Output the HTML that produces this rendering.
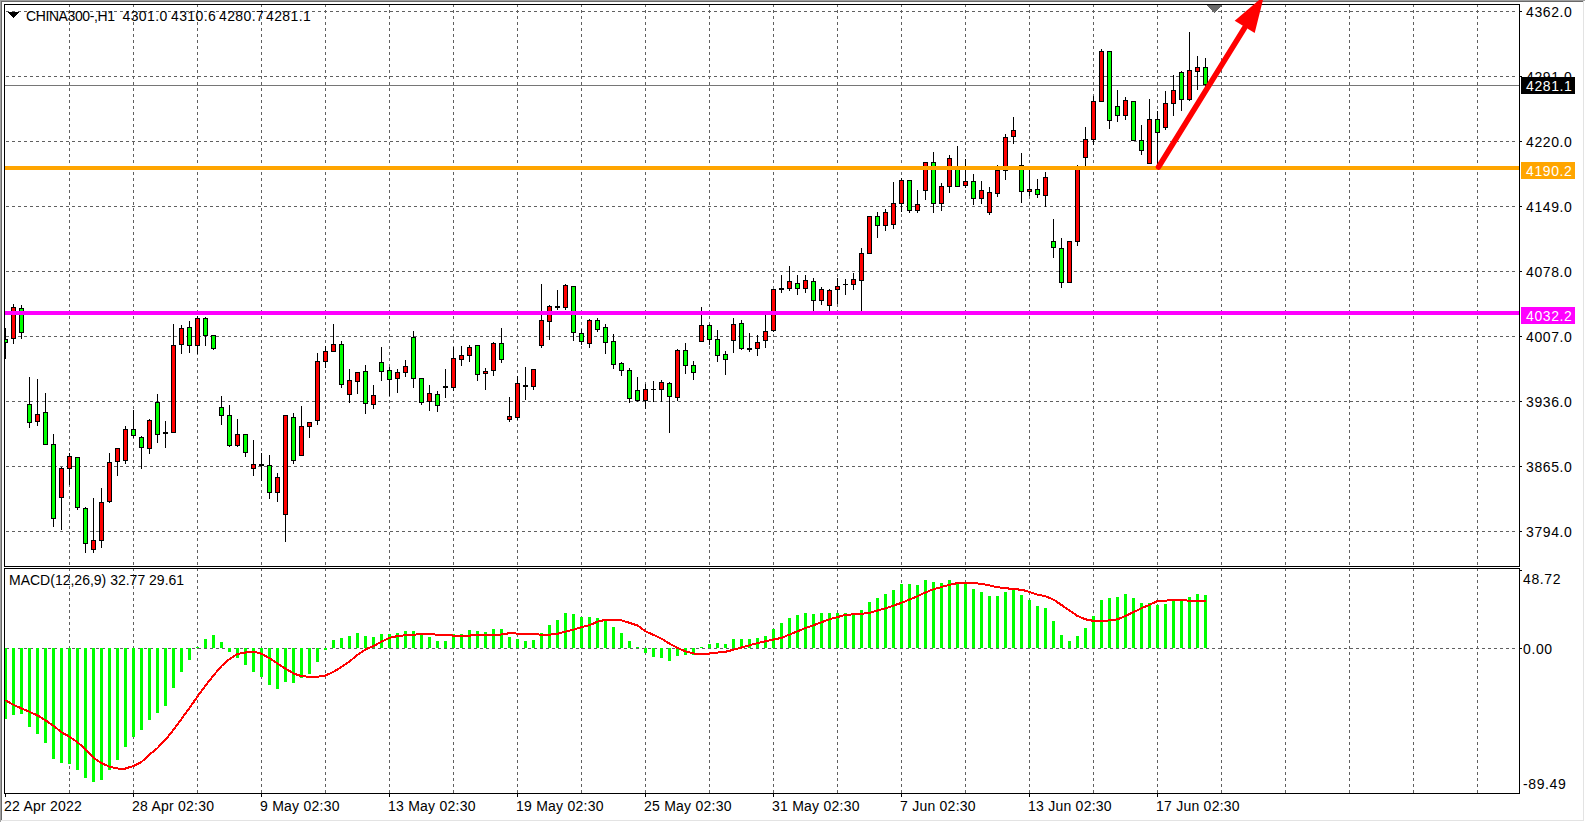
<!DOCTYPE html>
<html><head><meta charset="utf-8"><style>
html,body{margin:0;padding:0;background:#fff;overflow:hidden;}
svg{display:block;}
</style></head><body><svg width="1585" height="822" viewBox="0 0 1585 822"><rect x="0" y="0" width="1585" height="822" fill="#fff"/><rect x="0" y="0" width="1585" height="1" fill="#a0a0a0"/><rect x="0" y="0" width="1" height="822" fill="#a0a0a0"/><rect x="1" y="1" width="1583" height="1" fill="#696969"/><rect x="1" y="1" width="1" height="820" fill="#696969"/><rect x="1583" y="1" width="1" height="820" fill="#e3e3e3"/><rect x="1" y="820" width="1583" height="1" fill="#e3e3e3"/><path d="M69.5 4V566 M69.5 568V793 M133.5 4V566 M133.5 568V793 M197.5 4V566 M197.5 568V793 M261.5 4V566 M261.5 568V793 M325.5 4V566 M325.5 568V793 M389.5 4V566 M389.5 568V793 M453.5 4V566 M453.5 568V793 M517.5 4V566 M517.5 568V793 M581.5 4V566 M581.5 568V793 M645.5 4V566 M645.5 568V793 M709.5 4V566 M709.5 568V793 M773.5 4V566 M773.5 568V793 M837.5 4V566 M837.5 568V793 M901.5 4V566 M901.5 568V793 M965.5 4V566 M965.5 568V793 M1029.5 4V566 M1029.5 568V793 M1093.5 4V566 M1093.5 568V793 M1157.5 4V566 M1157.5 568V793 M1221.5 4V566 M1221.5 568V793 M1285.5 4V566 M1285.5 568V793 M1349.5 4V566 M1349.5 568V793 M1413.5 4V566 M1413.5 568V793 M1477.5 4V566 M1477.5 568V793 M6 11.5H1518 M6 76.5H1518 M6 141.5H1518 M6 206.5H1518 M6 271.5H1518 M6 336.5H1518 M6 401.5H1518 M6 466.5H1518 M6 531.5H1518 M6 648.5H1518" stroke="#606060" stroke-width="1" stroke-dasharray="3 3" fill="none" shape-rendering="crispEdges"/><rect x="5" y="85" width="1514" height="1" fill="#767676"/><defs><clipPath id="cm"><rect x="5" y="5" width="1514" height="561"/></clipPath><clipPath id="cd"><rect x="5" y="569" width="1514" height="224"/></clipPath></defs><g clip-path="url(#cm)"><g fill="#000" shape-rendering="crispEdges"><rect x="5" y="328" width="1" height="31"/><rect x="13" y="304" width="1" height="40"/><rect x="21" y="305" width="1" height="34"/><rect x="29" y="377" width="1" height="51"/><rect x="37" y="379" width="1" height="47"/><rect x="45" y="393" width="1" height="52"/><rect x="53" y="434" width="1" height="93"/><rect x="61" y="467" width="1" height="63"/><rect x="69" y="453" width="1" height="32"/><rect x="77" y="457" width="1" height="53"/><rect x="85" y="507" width="1" height="46"/><rect x="93" y="498" width="1" height="55"/><rect x="101" y="488" width="1" height="60"/><rect x="109" y="453" width="1" height="50"/><rect x="117" y="448" width="1" height="28"/><rect x="125" y="426" width="1" height="38"/><rect x="133" y="410" width="1" height="28"/><rect x="141" y="436" width="1" height="33"/><rect x="149" y="419" width="1" height="35"/><rect x="157" y="394" width="1" height="49"/><rect x="165" y="421" width="1" height="27"/><rect x="173" y="324" width="1" height="109"/><rect x="181" y="325" width="1" height="29"/><rect x="189" y="321" width="1" height="32"/><rect x="197" y="316" width="1" height="38"/><rect x="205" y="317" width="1" height="29"/><rect x="213" y="335" width="1" height="15"/><rect x="221" y="396" width="1" height="29"/><rect x="229" y="405" width="1" height="42"/><rect x="237" y="419" width="1" height="28"/><rect x="245" y="434" width="1" height="23"/><rect x="253" y="440" width="1" height="36"/><rect x="261" y="453" width="1" height="28"/><rect x="269" y="455" width="1" height="44"/><rect x="277" y="473" width="1" height="29"/><rect x="285" y="415" width="1" height="127"/><rect x="293" y="413" width="1" height="51"/><rect x="301" y="406" width="1" height="50"/><rect x="309" y="422" width="1" height="16"/><rect x="317" y="353" width="1" height="72"/><rect x="325" y="346" width="1" height="22"/><rect x="333" y="324" width="1" height="28"/><rect x="341" y="341" width="1" height="47"/><rect x="349" y="369" width="1" height="34"/><rect x="357" y="372" width="1" height="22"/><rect x="365" y="365" width="1" height="49"/><rect x="373" y="385" width="1" height="24"/><rect x="381" y="347" width="1" height="34"/><rect x="389" y="367" width="1" height="29"/><rect x="397" y="369" width="1" height="24"/><rect x="405" y="360" width="1" height="17"/><rect x="413" y="331" width="1" height="57"/><rect x="421" y="378" width="1" height="27"/><rect x="429" y="385" width="1" height="26"/><rect x="437" y="391" width="1" height="21"/><rect x="445" y="369" width="1" height="29"/><rect x="453" y="347" width="1" height="44"/><rect x="461" y="346" width="1" height="20"/><rect x="469" y="345" width="1" height="17"/><rect x="477" y="345" width="1" height="36"/><rect x="485" y="368" width="1" height="22"/><rect x="493" y="342" width="1" height="34"/><rect x="501" y="328" width="1" height="35"/><rect x="509" y="397" width="1" height="25"/><rect x="517" y="376" width="1" height="44"/><rect x="525" y="367" width="1" height="33"/><rect x="533" y="369" width="1" height="21"/><rect x="541" y="284" width="1" height="64"/><rect x="549" y="305" width="1" height="35"/><rect x="557" y="290" width="1" height="20"/><rect x="565" y="284" width="1" height="26"/><rect x="573" y="286" width="1" height="55"/><rect x="581" y="329" width="1" height="16"/><rect x="589" y="319" width="1" height="29"/><rect x="597" y="318" width="1" height="14"/><rect x="605" y="324" width="1" height="30"/><rect x="613" y="334" width="1" height="35"/><rect x="621" y="362" width="1" height="14"/><rect x="629" y="368" width="1" height="35"/><rect x="637" y="377" width="1" height="25"/><rect x="645" y="384" width="1" height="25"/><rect x="653" y="381" width="1" height="21"/><rect x="661" y="380" width="1" height="22"/><rect x="669" y="382" width="1" height="51"/><rect x="677" y="349" width="1" height="52"/><rect x="685" y="343" width="1" height="31"/><rect x="693" y="361" width="1" height="19"/><rect x="701" y="307" width="1" height="35"/><rect x="709" y="324" width="1" height="21"/><rect x="717" y="330" width="1" height="32"/><rect x="725" y="351" width="1" height="24"/><rect x="733" y="318" width="1" height="35"/><rect x="741" y="320" width="1" height="30"/><rect x="749" y="333" width="1" height="19"/><rect x="757" y="335" width="1" height="21"/><rect x="765" y="315" width="1" height="33"/><rect x="773" y="289" width="1" height="43"/><rect x="781" y="275" width="1" height="18"/><rect x="789" y="266" width="1" height="25"/><rect x="797" y="275" width="1" height="20"/><rect x="805" y="275" width="1" height="18"/><rect x="813" y="278" width="1" height="34"/><rect x="821" y="287" width="1" height="18"/><rect x="829" y="289" width="1" height="23"/><rect x="837" y="278" width="1" height="26"/><rect x="845" y="279" width="1" height="16"/><rect x="853" y="273" width="1" height="17"/><rect x="861" y="248" width="1" height="64"/><rect x="869" y="216" width="1" height="38"/><rect x="877" y="212" width="1" height="26"/><rect x="885" y="209" width="1" height="22"/><rect x="893" y="182" width="1" height="47"/><rect x="901" y="178" width="1" height="34"/><rect x="909" y="180" width="1" height="33"/><rect x="917" y="190" width="1" height="23"/><rect x="925" y="162" width="1" height="38"/><rect x="933" y="152" width="1" height="61"/><rect x="941" y="183" width="1" height="28"/><rect x="949" y="155" width="1" height="38"/><rect x="957" y="146" width="1" height="41"/><rect x="965" y="159" width="1" height="29"/><rect x="973" y="174" width="1" height="31"/><rect x="981" y="181" width="1" height="23"/><rect x="989" y="187" width="1" height="28"/><rect x="997" y="165" width="1" height="32"/><rect x="1005" y="134" width="1" height="46"/><rect x="1013" y="117" width="1" height="27"/><rect x="1021" y="153" width="1" height="50"/><rect x="1029" y="170" width="1" height="26"/><rect x="1037" y="179" width="1" height="19"/><rect x="1045" y="172" width="1" height="35"/><rect x="1053" y="219" width="1" height="39"/><rect x="1061" y="238" width="1" height="50"/><rect x="1069" y="241" width="1" height="42"/><rect x="1077" y="165" width="1" height="81"/><rect x="1085" y="127" width="1" height="39"/><rect x="1093" y="96" width="1" height="49"/><rect x="1101" y="49" width="1" height="53"/><rect x="1109" y="51" width="1" height="78"/><rect x="1117" y="90" width="1" height="32"/><rect x="1125" y="97" width="1" height="23"/><rect x="1133" y="101" width="1" height="40"/><rect x="1141" y="125" width="1" height="30"/><rect x="1149" y="99" width="1" height="65"/><rect x="1157" y="111" width="1" height="54"/><rect x="1165" y="91" width="1" height="39"/><rect x="1173" y="75" width="1" height="41"/><rect x="1181" y="71" width="1" height="40"/><rect x="1189" y="32" width="1" height="69"/><rect x="1197" y="56" width="1" height="34"/><rect x="1205" y="58" width="1" height="32"/><rect x="3" y="339" width="5" height="4"/><rect x="11" y="307" width="5" height="32"/><rect x="19" y="308" width="5" height="25"/><rect x="27" y="404" width="5" height="19"/><rect x="35" y="414" width="5" height="8"/><rect x="43" y="412" width="5" height="33"/><rect x="51" y="444" width="5" height="75"/><rect x="59" y="468" width="5" height="30"/><rect x="67" y="456" width="5" height="13"/><rect x="75" y="457" width="5" height="51"/><rect x="83" y="508" width="5" height="36"/><rect x="91" y="540" width="5" height="10"/><rect x="99" y="502" width="5" height="39"/><rect x="107" y="462" width="5" height="40"/><rect x="115" y="448" width="5" height="14"/><rect x="123" y="429" width="5" height="32"/><rect x="131" y="429" width="5" height="7"/><rect x="139" y="437" width="5" height="11"/><rect x="147" y="420" width="5" height="29"/><rect x="155" y="402" width="5" height="33"/><rect x="163" y="432" width="5" height="2"/><rect x="171" y="345" width="5" height="88"/><rect x="179" y="328" width="5" height="17"/><rect x="187" y="327" width="5" height="19"/><rect x="195" y="318" width="5" height="28"/><rect x="203" y="318" width="5" height="18"/><rect x="211" y="335" width="5" height="14"/><rect x="219" y="407" width="5" height="9"/><rect x="227" y="415" width="5" height="31"/><rect x="235" y="434" width="5" height="12"/><rect x="243" y="434" width="5" height="19"/><rect x="251" y="464" width="5" height="5"/><rect x="259" y="464" width="5" height="2"/><rect x="267" y="465" width="5" height="28"/><rect x="275" y="477" width="5" height="16"/><rect x="283" y="415" width="5" height="100"/><rect x="291" y="417" width="5" height="44"/><rect x="299" y="426" width="5" height="30"/><rect x="307" y="422" width="5" height="5"/><rect x="315" y="361" width="5" height="60"/><rect x="323" y="351" width="5" height="11"/><rect x="331" y="344" width="5" height="8"/><rect x="339" y="344" width="5" height="41"/><rect x="347" y="380" width="5" height="15"/><rect x="355" y="372" width="5" height="10"/><rect x="363" y="371" width="5" height="33"/><rect x="371" y="395" width="5" height="10"/><rect x="379" y="362" width="5" height="10"/><rect x="387" y="370" width="5" height="10"/><rect x="395" y="372" width="5" height="7"/><rect x="403" y="366" width="5" height="7"/><rect x="411" y="337" width="5" height="42"/><rect x="419" y="378" width="5" height="25"/><rect x="427" y="393" width="5" height="9"/><rect x="435" y="394" width="5" height="12"/><rect x="443" y="386" width="5" height="2"/><rect x="451" y="358" width="5" height="30"/><rect x="459" y="355" width="5" height="5"/><rect x="467" y="347" width="5" height="9"/><rect x="475" y="345" width="5" height="30"/><rect x="483" y="371" width="5" height="3"/><rect x="491" y="343" width="5" height="28"/><rect x="499" y="343" width="5" height="17"/><rect x="507" y="416" width="5" height="4"/><rect x="515" y="383" width="5" height="35"/><rect x="523" y="385" width="5" height="2"/><rect x="531" y="369" width="5" height="18"/><rect x="539" y="320" width="5" height="26"/><rect x="547" y="306" width="5" height="16"/><rect x="555" y="306" width="5" height="2"/><rect x="563" y="285" width="5" height="23"/><rect x="571" y="286" width="5" height="47"/><rect x="579" y="333" width="5" height="9"/><rect x="587" y="320" width="5" height="24"/><rect x="595" y="320" width="5" height="10"/><rect x="603" y="327" width="5" height="16"/><rect x="611" y="341" width="5" height="24"/><rect x="619" y="363" width="5" height="8"/><rect x="627" y="370" width="5" height="29"/><rect x="635" y="390" width="5" height="11"/><rect x="643" y="389" width="5" height="12"/><rect x="651" y="389" width="5" height="1"/><rect x="659" y="382" width="5" height="8"/><rect x="667" y="383" width="5" height="14"/><rect x="675" y="350" width="5" height="48"/><rect x="683" y="350" width="5" height="16"/><rect x="691" y="365" width="5" height="8"/><rect x="699" y="325" width="5" height="17"/><rect x="707" y="325" width="5" height="15"/><rect x="715" y="339" width="5" height="17"/><rect x="723" y="354" width="5" height="6"/><rect x="731" y="324" width="5" height="17"/><rect x="739" y="323" width="5" height="26"/><rect x="747" y="348" width="5" height="2"/><rect x="755" y="342" width="5" height="7"/><rect x="763" y="331" width="5" height="10"/><rect x="771" y="289" width="5" height="42"/><rect x="779" y="288" width="5" height="2"/><rect x="787" y="281" width="5" height="8"/><rect x="795" y="283" width="5" height="6"/><rect x="803" y="280" width="5" height="9"/><rect x="811" y="281" width="5" height="20"/><rect x="819" y="289" width="5" height="12"/><rect x="827" y="290" width="5" height="16"/><rect x="835" y="286" width="5" height="4"/><rect x="843" y="284" width="5" height="1"/><rect x="851" y="279" width="5" height="6"/><rect x="859" y="253" width="5" height="28"/><rect x="867" y="216" width="5" height="38"/><rect x="875" y="216" width="5" height="10"/><rect x="883" y="212" width="5" height="14"/><rect x="891" y="203" width="5" height="22"/><rect x="899" y="180" width="5" height="24"/><rect x="907" y="180" width="5" height="31"/><rect x="915" y="204" width="5" height="7"/><rect x="923" y="162" width="5" height="29"/><rect x="931" y="162" width="5" height="42"/><rect x="939" y="186" width="5" height="18"/><rect x="947" y="158" width="5" height="29"/><rect x="955" y="167" width="5" height="20"/><rect x="963" y="181" width="5" height="5"/><rect x="971" y="181" width="5" height="18"/><rect x="979" y="190" width="5" height="9"/><rect x="987" y="192" width="5" height="21"/><rect x="995" y="170" width="5" height="24"/><rect x="1003" y="137" width="5" height="34"/><rect x="1011" y="130" width="5" height="7"/><rect x="1019" y="165" width="5" height="27"/><rect x="1027" y="189" width="5" height="3"/><rect x="1035" y="189" width="5" height="6"/><rect x="1043" y="177" width="5" height="19"/><rect x="1051" y="241" width="5" height="7"/><rect x="1059" y="248" width="5" height="35"/><rect x="1067" y="241" width="5" height="42"/><rect x="1075" y="169" width="5" height="73"/><rect x="1083" y="139" width="5" height="19"/><rect x="1091" y="101" width="5" height="39"/><rect x="1099" y="51" width="5" height="51"/><rect x="1107" y="51" width="5" height="70"/><rect x="1115" y="106" width="5" height="10"/><rect x="1123" y="100" width="5" height="16"/><rect x="1131" y="101" width="5" height="40"/><rect x="1139" y="140" width="5" height="11"/><rect x="1147" y="119" width="5" height="45"/><rect x="1155" y="119" width="5" height="14"/><rect x="1163" y="103" width="5" height="25"/><rect x="1171" y="90" width="5" height="14"/><rect x="1179" y="72" width="5" height="28"/><rect x="1187" y="70" width="5" height="30"/><rect x="1195" y="67" width="5" height="5"/><rect x="1203" y="67" width="5" height="18"/></g><g fill="#ff0000" shape-rendering="crispEdges"><rect x="12" y="308" width="3" height="30"/><rect x="36" y="415" width="3" height="6"/><rect x="60" y="469" width="3" height="28"/><rect x="68" y="457" width="3" height="11"/><rect x="92" y="541" width="3" height="8"/><rect x="100" y="503" width="3" height="37"/><rect x="108" y="463" width="3" height="38"/><rect x="116" y="449" width="3" height="12"/><rect x="124" y="430" width="3" height="30"/><rect x="148" y="421" width="3" height="27"/><rect x="172" y="346" width="3" height="86"/><rect x="180" y="329" width="3" height="15"/><rect x="196" y="319" width="3" height="26"/><rect x="236" y="435" width="3" height="10"/><rect x="252" y="465" width="3" height="3"/><rect x="276" y="478" width="3" height="14"/><rect x="284" y="416" width="3" height="98"/><rect x="300" y="427" width="3" height="28"/><rect x="308" y="423" width="3" height="3"/><rect x="316" y="362" width="3" height="58"/><rect x="324" y="352" width="3" height="9"/><rect x="332" y="345" width="3" height="6"/><rect x="348" y="381" width="3" height="13"/><rect x="356" y="373" width="3" height="8"/><rect x="372" y="396" width="3" height="8"/><rect x="396" y="373" width="3" height="5"/><rect x="404" y="367" width="3" height="5"/><rect x="428" y="394" width="3" height="7"/><rect x="452" y="359" width="3" height="28"/><rect x="460" y="356" width="3" height="3"/><rect x="468" y="348" width="3" height="7"/><rect x="484" y="372" width="3" height="1"/><rect x="492" y="344" width="3" height="26"/><rect x="508" y="417" width="3" height="2"/><rect x="516" y="384" width="3" height="33"/><rect x="532" y="370" width="3" height="16"/><rect x="540" y="321" width="3" height="24"/><rect x="548" y="307" width="3" height="14"/><rect x="564" y="286" width="3" height="21"/><rect x="588" y="321" width="3" height="22"/><rect x="644" y="390" width="3" height="10"/><rect x="660" y="383" width="3" height="6"/><rect x="676" y="351" width="3" height="46"/><rect x="700" y="326" width="3" height="15"/><rect x="732" y="325" width="3" height="15"/><rect x="756" y="343" width="3" height="5"/><rect x="764" y="332" width="3" height="8"/><rect x="772" y="290" width="3" height="40"/><rect x="788" y="282" width="3" height="6"/><rect x="804" y="281" width="3" height="7"/><rect x="820" y="290" width="3" height="10"/><rect x="828" y="291" width="3" height="14"/><rect x="836" y="287" width="3" height="2"/><rect x="852" y="280" width="3" height="4"/><rect x="860" y="254" width="3" height="26"/><rect x="868" y="217" width="3" height="36"/><rect x="884" y="213" width="3" height="12"/><rect x="892" y="204" width="3" height="20"/><rect x="900" y="181" width="3" height="22"/><rect x="916" y="205" width="3" height="5"/><rect x="924" y="163" width="3" height="27"/><rect x="940" y="187" width="3" height="16"/><rect x="948" y="159" width="3" height="27"/><rect x="964" y="182" width="3" height="3"/><rect x="980" y="191" width="3" height="7"/><rect x="988" y="193" width="3" height="19"/><rect x="996" y="171" width="3" height="22"/><rect x="1004" y="138" width="3" height="32"/><rect x="1012" y="131" width="3" height="5"/><rect x="1028" y="190" width="3" height="1"/><rect x="1044" y="178" width="3" height="17"/><rect x="1068" y="242" width="3" height="40"/><rect x="1076" y="170" width="3" height="71"/><rect x="1084" y="140" width="3" height="17"/><rect x="1092" y="102" width="3" height="37"/><rect x="1100" y="52" width="3" height="49"/><rect x="1124" y="101" width="3" height="14"/><rect x="1148" y="120" width="3" height="43"/><rect x="1164" y="104" width="3" height="23"/><rect x="1172" y="91" width="3" height="12"/><rect x="1188" y="71" width="3" height="28"/><rect x="1196" y="68" width="3" height="3"/></g><g fill="#00ff00" shape-rendering="crispEdges"><rect x="4" y="340" width="3" height="2"/><rect x="20" y="309" width="3" height="23"/><rect x="28" y="405" width="3" height="17"/><rect x="44" y="413" width="3" height="31"/><rect x="52" y="445" width="3" height="73"/><rect x="76" y="458" width="3" height="49"/><rect x="84" y="509" width="3" height="34"/><rect x="132" y="430" width="3" height="5"/><rect x="140" y="438" width="3" height="9"/><rect x="156" y="403" width="3" height="31"/><rect x="188" y="328" width="3" height="17"/><rect x="204" y="319" width="3" height="16"/><rect x="212" y="336" width="3" height="12"/><rect x="220" y="408" width="3" height="7"/><rect x="228" y="416" width="3" height="29"/><rect x="244" y="435" width="3" height="17"/><rect x="268" y="466" width="3" height="26"/><rect x="292" y="418" width="3" height="42"/><rect x="340" y="345" width="3" height="39"/><rect x="364" y="372" width="3" height="31"/><rect x="380" y="363" width="3" height="8"/><rect x="388" y="371" width="3" height="8"/><rect x="412" y="338" width="3" height="40"/><rect x="420" y="379" width="3" height="23"/><rect x="436" y="395" width="3" height="10"/><rect x="476" y="346" width="3" height="28"/><rect x="500" y="344" width="3" height="15"/><rect x="572" y="287" width="3" height="45"/><rect x="580" y="334" width="3" height="7"/><rect x="596" y="321" width="3" height="8"/><rect x="604" y="328" width="3" height="14"/><rect x="612" y="342" width="3" height="22"/><rect x="620" y="364" width="3" height="6"/><rect x="628" y="371" width="3" height="27"/><rect x="636" y="391" width="3" height="9"/><rect x="668" y="384" width="3" height="12"/><rect x="684" y="351" width="3" height="14"/><rect x="692" y="366" width="3" height="6"/><rect x="708" y="326" width="3" height="13"/><rect x="716" y="340" width="3" height="15"/><rect x="724" y="355" width="3" height="4"/><rect x="740" y="324" width="3" height="24"/><rect x="796" y="284" width="3" height="4"/><rect x="812" y="282" width="3" height="18"/><rect x="876" y="217" width="3" height="8"/><rect x="908" y="181" width="3" height="29"/><rect x="932" y="163" width="3" height="40"/><rect x="956" y="168" width="3" height="18"/><rect x="972" y="182" width="3" height="16"/><rect x="1020" y="166" width="3" height="25"/><rect x="1036" y="190" width="3" height="4"/><rect x="1052" y="242" width="3" height="5"/><rect x="1060" y="249" width="3" height="33"/><rect x="1108" y="52" width="3" height="68"/><rect x="1116" y="107" width="3" height="8"/><rect x="1132" y="102" width="3" height="38"/><rect x="1140" y="141" width="3" height="9"/><rect x="1156" y="120" width="3" height="12"/><rect x="1180" y="73" width="3" height="26"/><rect x="1204" y="68" width="3" height="16"/></g></g><rect x="5" y="166" width="1514" height="4" fill="#ffa500"/><rect x="5" y="311" width="1514" height="4" fill="#ff00ff"/><g clip-path="url(#cd)"><g fill="#00ff00" shape-rendering="crispEdges"><rect x="4" y="648" width="3" height="71"/><rect x="12" y="648" width="3" height="67"/><rect x="20" y="648" width="3" height="66"/><rect x="28" y="648" width="3" height="79"/><rect x="36" y="648" width="3" height="86"/><rect x="44" y="648" width="3" height="95"/><rect x="52" y="648" width="3" height="111"/><rect x="60" y="648" width="3" height="115"/><rect x="68" y="648" width="3" height="116"/><rect x="76" y="648" width="3" height="122"/><rect x="84" y="648" width="3" height="130"/><rect x="92" y="648" width="3" height="134"/><rect x="100" y="648" width="3" height="132"/><rect x="108" y="648" width="3" height="122"/><rect x="116" y="648" width="3" height="112"/><rect x="124" y="648" width="3" height="99"/><rect x="132" y="648" width="3" height="89"/><rect x="140" y="648" width="3" height="82"/><rect x="148" y="648" width="3" height="72"/><rect x="156" y="648" width="3" height="65"/><rect x="164" y="648" width="3" height="58"/><rect x="172" y="648" width="3" height="40"/><rect x="180" y="648" width="3" height="24"/><rect x="188" y="648" width="3" height="12"/><rect x="196" y="647" width="3" height="1"/><rect x="204" y="639" width="3" height="9"/><rect x="212" y="635" width="3" height="13"/><rect x="220" y="642" width="3" height="6"/><rect x="228" y="648" width="3" height="4"/><rect x="236" y="648" width="3" height="10"/><rect x="244" y="648" width="3" height="17"/><rect x="252" y="648" width="3" height="24"/><rect x="260" y="648" width="3" height="29"/><rect x="268" y="648" width="3" height="37"/><rect x="276" y="648" width="3" height="41"/><rect x="284" y="648" width="3" height="34"/><rect x="292" y="648" width="3" height="35"/><rect x="300" y="648" width="3" height="30"/><rect x="308" y="648" width="3" height="26"/><rect x="316" y="648" width="3" height="14"/><rect x="324" y="648" width="3" height="2"/><rect x="332" y="640" width="3" height="8"/><rect x="340" y="638" width="3" height="10"/><rect x="348" y="636" width="3" height="12"/><rect x="356" y="633" width="3" height="15"/><rect x="364" y="636" width="3" height="12"/><rect x="372" y="637" width="3" height="11"/><rect x="380" y="634" width="3" height="14"/><rect x="388" y="634" width="3" height="14"/><rect x="396" y="633" width="3" height="15"/><rect x="404" y="631" width="3" height="17"/><rect x="412" y="631" width="3" height="17"/><rect x="420" y="634" width="3" height="14"/><rect x="428" y="637" width="3" height="11"/><rect x="436" y="641" width="3" height="7"/><rect x="444" y="641" width="3" height="7"/><rect x="452" y="634" width="3" height="14"/><rect x="460" y="634" width="3" height="14"/><rect x="468" y="630" width="3" height="18"/><rect x="476" y="631" width="3" height="17"/><rect x="484" y="632" width="3" height="16"/><rect x="492" y="629" width="3" height="19"/><rect x="500" y="629" width="3" height="19"/><rect x="508" y="637" width="3" height="11"/><rect x="516" y="639" width="3" height="9"/><rect x="524" y="641" width="3" height="7"/><rect x="532" y="640" width="3" height="8"/><rect x="540" y="633" width="3" height="15"/><rect x="548" y="625" width="3" height="23"/><rect x="556" y="620" width="3" height="28"/><rect x="564" y="613" width="3" height="35"/><rect x="572" y="614" width="3" height="34"/><rect x="580" y="617" width="3" height="31"/><rect x="588" y="617" width="3" height="31"/><rect x="596" y="618" width="3" height="30"/><rect x="604" y="621" width="3" height="27"/><rect x="612" y="627" width="3" height="21"/><rect x="620" y="633" width="3" height="15"/><rect x="628" y="641" width="3" height="7"/><rect x="636" y="647" width="3" height="1"/><rect x="644" y="648" width="3" height="5"/><rect x="652" y="648" width="3" height="9"/><rect x="660" y="648" width="3" height="10"/><rect x="668" y="648" width="3" height="13"/><rect x="676" y="648" width="3" height="8"/><rect x="684" y="648" width="3" height="7"/><rect x="692" y="648" width="3" height="7"/><rect x="700" y="647" width="3" height="1"/><rect x="708" y="644" width="3" height="4"/><rect x="716" y="643" width="3" height="5"/><rect x="724" y="644" width="3" height="4"/><rect x="732" y="639" width="3" height="9"/><rect x="740" y="639" width="3" height="9"/><rect x="748" y="639" width="3" height="9"/><rect x="756" y="638" width="3" height="10"/><rect x="764" y="636" width="3" height="12"/><rect x="772" y="629" width="3" height="19"/><rect x="780" y="623" width="3" height="25"/><rect x="788" y="618" width="3" height="30"/><rect x="796" y="615" width="3" height="33"/><rect x="804" y="613" width="3" height="35"/><rect x="812" y="614" width="3" height="34"/><rect x="820" y="613" width="3" height="35"/><rect x="828" y="613" width="3" height="35"/><rect x="836" y="613" width="3" height="35"/><rect x="844" y="613" width="3" height="35"/><rect x="852" y="613" width="3" height="35"/><rect x="860" y="610" width="3" height="38"/><rect x="868" y="602" width="3" height="46"/><rect x="876" y="598" width="3" height="50"/><rect x="884" y="594" width="3" height="54"/><rect x="892" y="590" width="3" height="58"/><rect x="900" y="584" width="3" height="64"/><rect x="908" y="584" width="3" height="64"/><rect x="916" y="585" width="3" height="63"/><rect x="924" y="580" width="3" height="68"/><rect x="932" y="582" width="3" height="66"/><rect x="940" y="583" width="3" height="65"/><rect x="948" y="580" width="3" height="68"/><rect x="956" y="582" width="3" height="66"/><rect x="964" y="583" width="3" height="65"/><rect x="972" y="589" width="3" height="59"/><rect x="980" y="592" width="3" height="56"/><rect x="988" y="596" width="3" height="52"/><rect x="996" y="596" width="3" height="52"/><rect x="1004" y="592" width="3" height="56"/><rect x="1012" y="588" width="3" height="60"/><rect x="1020" y="595" width="3" height="53"/><rect x="1028" y="600" width="3" height="48"/><rect x="1036" y="606" width="3" height="42"/><rect x="1044" y="608" width="3" height="40"/><rect x="1052" y="621" width="3" height="27"/><rect x="1060" y="635" width="3" height="13"/><rect x="1068" y="641" width="3" height="7"/><rect x="1076" y="636" width="3" height="12"/><rect x="1084" y="628" width="3" height="20"/><rect x="1092" y="616" width="3" height="32"/><rect x="1100" y="600" width="3" height="48"/><rect x="1108" y="598" width="3" height="50"/><rect x="1116" y="597" width="3" height="51"/><rect x="1124" y="594" width="3" height="54"/><rect x="1132" y="598" width="3" height="50"/><rect x="1140" y="603" width="3" height="45"/><rect x="1148" y="603" width="3" height="45"/><rect x="1156" y="605" width="3" height="43"/><rect x="1164" y="604" width="3" height="44"/><rect x="1172" y="601" width="3" height="47"/><rect x="1180" y="601" width="3" height="47"/><rect x="1188" y="597" width="3" height="51"/><rect x="1196" y="594" width="3" height="54"/><rect x="1204" y="595" width="3" height="53"/></g><polyline points="5.5,700.3 13.5,704.8 21.5,708.5 29.5,711.8 37.5,715.4 45.5,720.3 53.5,725.8 61.5,732.2 69.5,736.8 77.5,742.2 85.5,749.5 93.5,757.8 101.5,763 109.5,766.8 117.5,768.5 125.5,768.5 133.5,766 141.5,762 149.5,754.5 157.5,748 165.5,739.7 173.5,729.8 181.5,718.9 189.5,708 197.5,696.5 205.5,685.5 213.5,675.5 221.5,666 229.5,659 237.5,654 245.5,652.5 253.5,651.6 261.5,653.8 269.5,658.2 277.5,663.6 285.5,668.6 293.5,673.5 301.5,676.2 309.5,676.8 317.5,676.8 325.5,675.5 333.5,671.9 341.5,666.9 349.5,661.5 357.5,654.9 365.5,649.4 373.5,646.1 381.5,641.6 389.5,637.8 397.5,636.1 405.5,635.2 413.5,634.8 421.5,633.9 429.5,633.9 437.5,634.8 445.5,634.8 453.5,635.6 461.5,635.6 469.5,635.6 477.5,634.8 485.5,634.8 493.5,634.8 501.5,634.5 509.5,633.2 517.5,633.6 525.5,634 533.5,634 541.5,634.7 549.5,634.7 557.5,633.8 565.5,631.6 573.5,629.6 581.5,627.2 589.5,625.2 597.5,621.7 605.5,619.8 613.5,619.8 621.5,620.4 629.5,622.8 637.5,625.5 645.5,631.4 653.5,634.9 661.5,638.7 669.5,643.6 677.5,648 685.5,651.3 693.5,653.5 701.5,653.5 709.5,653.5 717.5,652.6 725.5,651.8 733.5,649.7 741.5,647.5 749.5,645.3 757.5,643.1 765.5,641.3 773.5,639.5 781.5,637.9 789.5,634.6 797.5,631.3 805.5,628 813.5,625.3 821.5,622.3 829.5,619.3 837.5,617.1 845.5,614.9 853.5,614.3 861.5,613.8 869.5,612.9 877.5,610.5 885.5,608.3 893.5,605.6 901.5,602.8 909.5,599.6 917.5,596.3 925.5,592.4 933.5,589.2 941.5,587 949.5,584.8 957.5,583.1 965.5,582.6 973.5,582.9 981.5,584 989.5,585.3 997.5,587.3 1005.5,588.1 1013.5,589.2 1021.5,589.7 1029.5,591.9 1037.5,594.6 1045.5,596.3 1053.5,599.6 1061.5,605 1069.5,610.5 1077.5,616 1085.5,619.3 1093.5,620.9 1101.5,620.9 1109.5,620.4 1117.5,619.3 1125.5,616 1133.5,612.1 1141.5,608.3 1149.5,604.8 1157.5,601 1165.5,600.7 1173.5,599.8 1181.5,599.8 1189.5,600.9 1197.5,600.9 1205.5,600.9" fill="none" stroke="#ff0000" stroke-width="2" stroke-linejoin="round" shape-rendering="crispEdges"/></g><g fill="#000" shape-rendering="crispEdges"><rect x="4" y="4" width="1516" height="1"/><rect x="4" y="566" width="1516" height="1"/><rect x="4" y="4" width="1" height="563"/><rect x="1519" y="4" width="1" height="563"/><rect x="4" y="568" width="1516" height="1"/><rect x="4" y="793" width="1516" height="1"/><rect x="4" y="568" width="1" height="226"/><rect x="1519" y="568" width="1" height="226"/><rect x="1520" y="11" width="2" height="1"/><rect x="1520" y="76" width="2" height="1"/><rect x="1520" y="141" width="2" height="1"/><rect x="1520" y="206" width="2" height="1"/><rect x="1520" y="271" width="2" height="1"/><rect x="1520" y="336" width="2" height="1"/><rect x="1520" y="401" width="2" height="1"/><rect x="1520" y="466" width="2" height="1"/><rect x="1520" y="531" width="2" height="1"/><rect x="1520" y="570" width="2" height="1"/><rect x="1520" y="648" width="2" height="1"/><rect x="5" y="794" width="1" height="3"/><rect x="133" y="794" width="1" height="3"/><rect x="261" y="794" width="1" height="3"/><rect x="389" y="794" width="1" height="3"/><rect x="517" y="794" width="1" height="3"/><rect x="645" y="794" width="1" height="3"/><rect x="773" y="794" width="1" height="3"/><rect x="901" y="794" width="1" height="3"/><rect x="1029" y="794" width="1" height="3"/><rect x="1157" y="794" width="1" height="3"/></g><text x="1526" y="17" style="font-family:'Liberation Sans', sans-serif;font-size:14px;letter-spacing:0.6px;" fill="#000">4362.0</text><text x="1526" y="82" style="font-family:'Liberation Sans', sans-serif;font-size:14px;letter-spacing:0.6px;" fill="#000">4291.0</text><text x="1526" y="147" style="font-family:'Liberation Sans', sans-serif;font-size:14px;letter-spacing:0.6px;" fill="#000">4220.0</text><text x="1526" y="212" style="font-family:'Liberation Sans', sans-serif;font-size:14px;letter-spacing:0.6px;" fill="#000">4149.0</text><text x="1526" y="277" style="font-family:'Liberation Sans', sans-serif;font-size:14px;letter-spacing:0.6px;" fill="#000">4078.0</text><text x="1526" y="342" style="font-family:'Liberation Sans', sans-serif;font-size:14px;letter-spacing:0.6px;" fill="#000">4007.0</text><text x="1526" y="407" style="font-family:'Liberation Sans', sans-serif;font-size:14px;letter-spacing:0.6px;" fill="#000">3936.0</text><text x="1526" y="472" style="font-family:'Liberation Sans', sans-serif;font-size:14px;letter-spacing:0.6px;" fill="#000">3865.0</text><text x="1526" y="537" style="font-family:'Liberation Sans', sans-serif;font-size:14px;letter-spacing:0.6px;" fill="#000">3794.0</text><rect x="1521" y="77" width="54" height="17" fill="#000"/><text x="1526" y="91" style="font-family:'Liberation Sans', sans-serif;font-size:14px;letter-spacing:0.6px;" fill="#fff">4281.1</text><rect x="1521" y="162" width="54" height="17" fill="#ffa500"/><text x="1526" y="176" style="font-family:'Liberation Sans', sans-serif;font-size:14px;letter-spacing:0.6px;" fill="#fff">4190.2</text><rect x="1521" y="307" width="54" height="17" fill="#ff00ff"/><text x="1526" y="321" style="font-family:'Liberation Sans', sans-serif;font-size:14px;letter-spacing:0.6px;" fill="#fff">4032.2</text><text x="1523" y="584" style="font-family:'Liberation Sans', sans-serif;font-size:14px;letter-spacing:0.6px;" fill="#000">48.72</text><text x="1523" y="654" style="font-family:'Liberation Sans', sans-serif;font-size:14px;letter-spacing:0.6px;" fill="#000">0.00</text><text x="1523" y="789" style="font-family:'Liberation Sans', sans-serif;font-size:14px;letter-spacing:0.6px;" fill="#000">-89.49</text><text x="4" y="811" style="font-family:'Liberation Sans', sans-serif;font-size:14px;letter-spacing:0.24px;" fill="#000">22 Apr 2022</text><text x="132" y="811" style="font-family:'Liberation Sans', sans-serif;font-size:14px;letter-spacing:0.24px;" fill="#000">28 Apr 02:30</text><text x="260" y="811" style="font-family:'Liberation Sans', sans-serif;font-size:14px;letter-spacing:0.24px;" fill="#000">9 May 02:30</text><text x="388" y="811" style="font-family:'Liberation Sans', sans-serif;font-size:14px;letter-spacing:0.24px;" fill="#000">13 May 02:30</text><text x="516" y="811" style="font-family:'Liberation Sans', sans-serif;font-size:14px;letter-spacing:0.24px;" fill="#000">19 May 02:30</text><text x="644" y="811" style="font-family:'Liberation Sans', sans-serif;font-size:14px;letter-spacing:0.24px;" fill="#000">25 May 02:30</text><text x="772" y="811" style="font-family:'Liberation Sans', sans-serif;font-size:14px;letter-spacing:0.24px;" fill="#000">31 May 02:30</text><text x="900" y="811" style="font-family:'Liberation Sans', sans-serif;font-size:14px;letter-spacing:0.24px;" fill="#000">7 Jun 02:30</text><text x="1028" y="811" style="font-family:'Liberation Sans', sans-serif;font-size:14px;letter-spacing:0.24px;" fill="#000">13 Jun 02:30</text><text x="1156" y="811" style="font-family:'Liberation Sans', sans-serif;font-size:14px;letter-spacing:0.24px;" fill="#000">17 Jun 02:30</text><g fill="#000" shape-rendering="crispEdges"><rect x="8" y="12" width="11" height="1"/><rect x="9" y="13" width="9" height="1"/><rect x="10" y="14" width="7" height="1"/><rect x="11" y="15" width="5" height="1"/><rect x="12" y="16" width="3" height="1"/><rect x="13" y="17" width="1" height="1"/></g><text x="26" y="21" style="font-family:'Liberation Sans', sans-serif;font-size:14px;letter-spacing:-0.4px;" fill="#000">CHINA300-,H1</text><text x="122.5" y="21" style="font-family:'Liberation Sans', sans-serif;font-size:14px;letter-spacing:0.4px;" fill="#000">4301.0</text><text x="171" y="21" style="font-family:'Liberation Sans', sans-serif;font-size:14px;letter-spacing:0.4px;" fill="#000">4310.6</text><text x="219" y="21" style="font-family:'Liberation Sans', sans-serif;font-size:14px;letter-spacing:0.4px;" fill="#000">4280.7</text><text x="266" y="21" style="font-family:'Liberation Sans', sans-serif;font-size:14px;letter-spacing:0.4px;" fill="#000">4281.1</text><text x="9" y="585" style="font-family:'Liberation Sans', sans-serif;font-size:14px;" fill="#000">MACD(12,26,9) 32.77 29.61</text><g fill="#696969" shape-rendering="crispEdges"><rect x="1207" y="5" width="15" height="1"/><rect x="1208" y="6" width="13" height="1"/><rect x="1209" y="7" width="11" height="1"/><rect x="1210" y="8" width="9" height="1"/><rect x="1211" y="9" width="7" height="1"/><rect x="1212" y="10" width="5" height="1"/><rect x="1213" y="11" width="3" height="1"/><rect x="1214" y="12" width="1" height="1"/></g><line x1="1158.5" y1="167" x2="1244.5" y2="28" stroke="#ff0000" stroke-width="5.5" stroke-linecap="round"/><polygon points="1234.7,20.7 1264,-4.2 1254.7,33.1" fill="#ff0000"/></svg></body></html>
